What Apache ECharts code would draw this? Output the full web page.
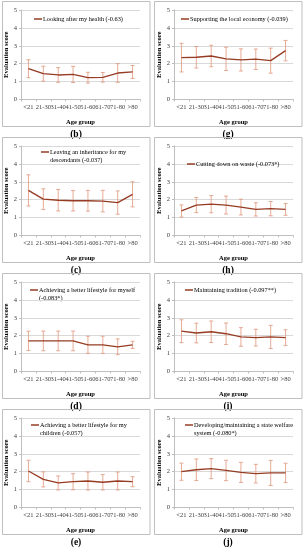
<!DOCTYPE html>
<html><head><meta charset="utf-8">
<script src="https://cdn.jsdelivr.net/npm/echarts@6/dist/echarts.min.js"></script>
<style>html,body{margin:0;padding:0;background:#fff}#c{width:306px;height:550px}</style>
</head><body><div id="c"></div>
<script>
const categories = ['<21','21-30','31-40','41-50','51-60','61-70','71-80','>80'];
const yTicks = [0,1,2,3,4,5];

const meanB = [1.72,1.44,1.37,1.40,1.22,1.24,1.48,1.54];
const sdB   = [0.50,0.42,0.41,0.45,0.30,0.27,0.52,0.36];
const meanG = [2.34,2.36,2.43,2.27,2.21,2.25,2.17,2.73];
const sdG   = [0.80,0.60,0.60,0.65,0.62,0.57,0.70,0.57];
const meanC = [2.52,2.03,1.97,1.94,1.94,1.92,1.84,2.30];
const sdC   = [0.87,0.58,0.60,0.57,0.58,0.60,0.65,0.70];
const meanH = [1.37,1.70,1.75,1.70,1.59,1.46,1.50,1.46];
const sdH   = [0.34,0.42,0.48,0.50,0.44,0.37,0.40,0.33];
const meanD = [1.71,1.71,1.71,1.71,1.49,1.49,1.38,1.49];
const sdD   = [0.54,0.55,0.55,0.55,0.48,0.48,0.44,0.20];
const meanI = [2.25,2.15,2.22,2.11,1.93,1.89,1.93,1.89];
const sdI   = [0.64,0.55,0.60,0.60,0.52,0.47,0.65,0.44];
const meanE = [2.04,1.57,1.37,1.44,1.48,1.41,1.48,1.44];
const sdE   = [0.60,0.42,0.39,0.45,0.50,0.43,0.50,0.28];
const meanJ = [2.00,2.11,2.17,2.07,1.96,1.89,1.93,1.93];
const sdJ   = [0.48,0.60,0.56,0.57,0.56,0.52,0.70,0.54];

const titlesB = ['Looking after my health (-0.63)'];
const titlesG = ['Supporting the local economy (-0.039)'];
const titlesC = ['Leaving an inheritance for my','descendants (-0.037)'];
const titlesH = ['Cutting down on waste (-0.073*)'];
const titlesD = ['Achieving a better lifestyle for myself','(-0.083*)'];
const titlesI = ['Maintaining tradition (-0.097**)'];
const titlesE = ['Achieving a better lifestyle for my','children (-0.057)'];
const titlesJ = ['Developing/maintaining a state welfare','system (-0.080*)'];
const panelLabels = ['(b)','(g)','(c)','(h)','(d)','(i)','(e)','(j)'];

const panels = [
  {row:0,col:0,mean:meanB,sd:sdB,title:titlesB,lx:43,ly:20},
  {row:0,col:1,mean:meanG,sd:sdG,title:titlesG,lx:190,ly:20},
  {row:1,col:0,mean:meanC,sd:sdC,title:titlesC,lx:50,ly:153},
  {row:1,col:1,mean:meanH,sd:sdH,title:titlesH,lx:196,ly:165},
  {row:2,col:0,mean:meanD,sd:sdD,title:titlesD,lx:39,ly:291},
  {row:2,col:1,mean:meanI,sd:sdI,title:titlesI,lx:194,ly:291},
  {row:3,col:0,mean:meanE,sd:sdE,title:titlesE,lx:40,ly:426},
  {row:3,col:1,mean:meanJ,sd:sdJ,title:titlesJ,lx:194,ly:426}
];

const FONT = '"Liberation Serif","DejaVu Serif",serif';
const LINE_COLOR = '#963C24';
const ERR_COLOR = '#E0957A';
const PLOT_H = 89.5, PLOT_W = 119, ROW_PITCH = 136, COL_PITCH = 153;

function renderErr(params, api){
  const lo = api.coord([api.value(0), api.value(1)]);
  const hi = api.coord([api.value(0), api.value(2)]);
  const w = 2;
  const st = {stroke: ERR_COLOR, lineWidth: 0.8};
  return {type:'group', children:[
    {type:'line', shape:{x1:hi[0],y1:hi[1],x2:lo[0],y2:lo[1]}, style:st},
    {type:'line', shape:{x1:hi[0]-w,y1:hi[1],x2:hi[0]+w,y2:hi[1]}, style:st},
    {type:'line', shape:{x1:lo[0]-w,y1:lo[1],x2:lo[0]+w,y2:lo[1]}, style:st}
  ]};
}

const grid=[], xAxis=[], yAxis=[], series=[], legend=[], graphic=[];
panels.forEach((p,i)=>{
  const left = 21 + p.col*COL_PITCH;
  const top = 10 + p.row*ROW_PITCH;
  graphic.push({type:'rect', silent:true, shape:{x:2.5+p.col*152, y:top-8.5, width:147.5, height:125},
    style:{fill:'none', stroke:'#BFBFBF', lineWidth:1}});
  graphic.push({type:'text', silent:true, style:{text:panelLabels[i], x:76+p.col*152, y:top+125,
    align:'center', verticalAlign:'middle', font:'bold 9.5px '+FONT, fill:'#000'}});
  grid.push({left:left, top:top, width:PLOT_W, height:PLOT_H, containLabel:false});
  xAxis.push({type:'category', gridIndex:i, data:categories, boundaryGap:true,
    axisLine:{lineStyle:{color:'#BFBFBF', width:1}},
    axisTick:{show:true, length:2, lineStyle:{color:'#BFBFBF'}},
    axisLabel:{interval:0, fontFamily:FONT, fontSize:6.5, color:'#404040', margin:4},
    name:'Age group', nameLocation:'middle', nameGap:19,
    nameTextStyle:{fontFamily:FONT, fontSize:6.5, fontWeight:'bold', color:'#000'}});
  yAxis.push({type:'value', gridIndex:i, min:yTicks[0], max:yTicks[yTicks.length-1], interval:1,
    axisLine:{show:true, lineStyle:{color:'#BFBFBF', width:1}},
    axisTick:{show:true, length:2, lineStyle:{color:'#BFBFBF'}},
    splitLine:{show:true, lineStyle:{color:'#D9D9D9', width:1}},
    axisLabel:{fontFamily:FONT, fontSize:6.5, color:'#404040', margin:4},
    name:'Evaluation score', nameLocation:'middle', nameGap:11.5,
    nameTextStyle:{fontFamily:FONT, fontSize:6.5, fontWeight:'bold', color:'#000'}});
  const sname = 'S'+i;
  series.push({type:'custom', xAxisIndex:i, yAxisIndex:i, renderItem:renderErr,
    encode:{x:0, y:[1,2]}, silent:true, z:2,
    data:p.mean.map((m,k)=>[k, m-p.sd[k], m+p.sd[k]])});
  series.push({type:'line', name:sname, xAxisIndex:i, yAxisIndex:i, data:p.mean,
    symbol:'none', smooth:false, lineStyle:{color:LINE_COLOR, width:1.3}, itemStyle:{color:LINE_COLOR},
    z:3, silent:true, animation:false});
  legend.push({data:[sname], left:p.lx-9, top:p.ly-4, itemWidth:8, itemHeight:1.5, icon:'rect',
    padding:0, selectedMode:false, formatter:()=>p.title[0],
    textStyle:{fontFamily:FONT, fontSize:6.3, color:'#000', padding:[0,0,0,-4]}});
  if (p.title.length>1){
    graphic.push({type:'text', silent:true, style:{text:p.title[1], x:p.lx, y:p.ly+7,
      align:'left', verticalAlign:'middle', font:'6.3px '+FONT, fill:'#000'}});
  }
});

const chart = echarts.init(document.getElementById('c'), null, {renderer:'canvas'});
chart.setOption({animation:false, backgroundColor:'#fff', grid, xAxis, yAxis, series, legend, graphic});
</script></body></html>
